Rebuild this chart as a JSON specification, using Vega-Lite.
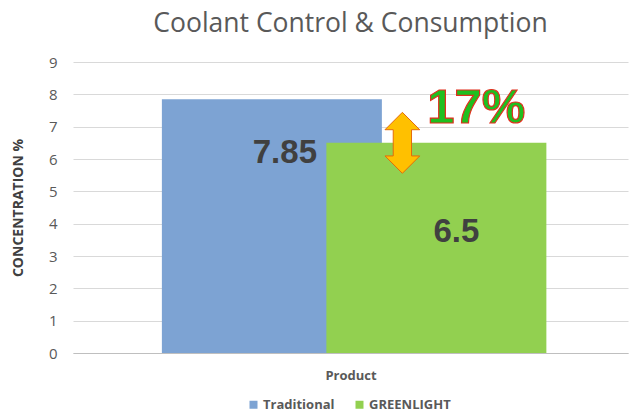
{
  "$schema": "https://vega.github.io/schema/vega-lite/v6.json",
  "width": 555,
  "height": 291,
  "autosize": {"type": "none"},
  "padding": {"left": 73, "top": 62, "right": 2, "bottom": 61},
  "background": "white",
  "config": {"view": {"stroke": null}},
  "title": {
    "text": "Coolant Control & Consumption",
    "font": "Open Sans",
    "fontSize": 26.5,
    "fontWeight": "normal",
    "color": "#595959",
    "anchor": "middle",
    "offset": 18
  },
  "data": {
    "values": [
      {"product": "Traditional", "value": 7.85, "label": "7.85"},
      {"product": "GREENLIGHT", "value": 6.5, "label": "6.5"}
    ]
  },
  "encoding": {
    "x": {
      "field": "product",
      "type": "nominal",
      "sort": null,
      "scale": {"type": "band", "domain": ["Traditional", "GREENLIGHT"], "paddingInner": 0.2, "paddingOuter": 0.787, "align": 0.514},
      "axis": {
        "title": "Product",
        "labels": false,
        "ticks": false,
        "domain": true,
        "domainColor": "#bfbfbf",
        "domainWidth": 1,
        "grid": false,
        "titleFont": "Open Sans",
        "titleFontSize": 13,
        "titleFontWeight": "bold",
        "titleColor": "#595959",
        "titlePadding": 16
      }
    },
    "y": {
      "field": "value",
      "type": "quantitative",
      "scale": {"domain": [0, 9], "nice": false},
      "axis": {
        "title": "CONCENTRATION %",
        "values": [0, 1, 2, 3, 4, 5, 6, 7, 8, 9],
        "ticks": false,
        "domain": false,
        "grid": true,
        "gridColor": "#d9d9d9",
        "gridWidth": 1,
        "labelFont": "Open Sans",
        "labelFontSize": 15,
        "labelColor": "#595959",
        "labelPadding": 16,
        "titleFont": "Open Sans",
        "titleFontSize": 14,
        "titleFontWeight": "bold",
        "titleColor": "#404040",
        "titlePadding": 23
      }
    }
  },
  "layer": [
    {
      "mark": {"type": "bar", "width": 220},
      "encoding": {
        "color": {
          "field": "product",
          "type": "nominal",
          "scale": {"domain": ["Traditional", "GREENLIGHT"], "range": ["#7DA3D3", "#92D050"]},
          "legend": {
            "title": null,
            "orient": "none",
            "legendX": 174,
            "legendY": 336,
            "direction": "horizontal",
            "symbolType": "square",
            "symbolSize": 64,
            "symbolStrokeWidth": 0,
            "labelFont": "Open Sans",
            "labelFontSize": 13,
            "labelFontWeight": "bold",
            "labelColor": "#595959",
            "labelOffset": 3,
            "columnPadding": 18
          }
        }
      }
    },
    {
      "transform": [{"filter": "datum.product == 'Traditional'"}],
      "mark": {"type": "text", "font": "Liberation Sans", "fontSize": 33, "fontWeight": "bold", "color": "#404040", "dx": 13, "dy": 54, "baseline": "middle"},
      "encoding": {"text": {"field": "label", "type": "nominal"}}
    },
    {
      "transform": [{"filter": "datum.product == 'GREENLIGHT'"}],
      "mark": {"type": "text", "font": "Liberation Sans", "fontSize": 33, "fontWeight": "bold", "color": "#404040", "dx": 20, "dy": 89, "baseline": "middle"},
      "encoding": {"text": {"field": "label", "type": "nominal"}}
    },
    {
      "transform": [{"filter": "datum.product == 'GREENLIGHT'"}],
      "mark": {
        "type": "point",
        "filled": true,
        "shape": "M0,-1 L0.57,-0.43 L0.3,-0.43 L0.3,0.43 L0.57,0.43 L0,1 L-0.57,0.43 L-0.3,0.43 L-0.3,-0.43 L-0.57,-0.43 Z",
        "size": 3721,
        "fill": "#FFC000",
        "stroke": "#E46C0A",
        "strokeWidth": 1,
        "opacity": 1,
        "xOffset": -34
      }
    },
    {
      "transform": [{"filter": "datum.product == 'GREENLIGHT'"}],
      "mark": {
        "type": "text",
        "text": "17%",
        "font": "Liberation Sans",
        "fontSize": 49,
        "fontWeight": "bold",
        "fill": "#1FBF1F",
        "stroke": "#E0301E",
        "strokeWidth": 1.2,
        "dx": 40,
        "dy": -35,
        "baseline": "middle",
        "align": "center"
      }
    }
  ]
}
